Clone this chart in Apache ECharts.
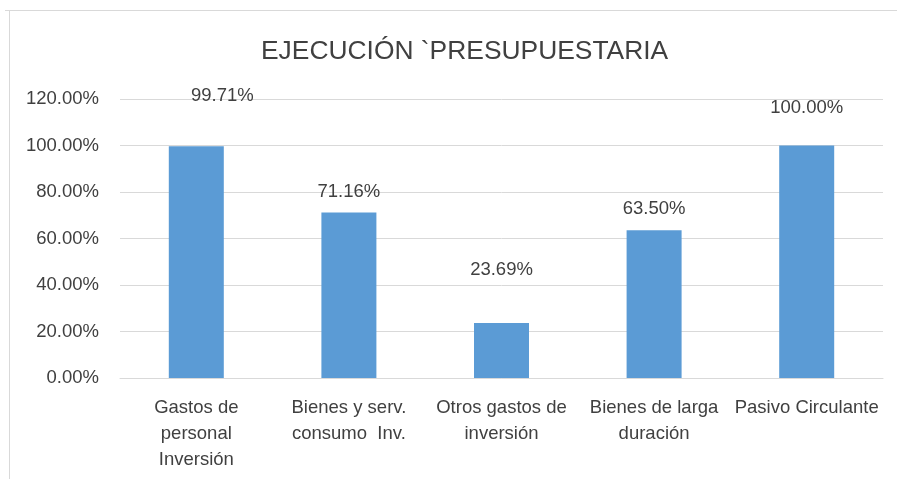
<!DOCTYPE html>
<html><head><meta charset="utf-8">
<script src="https://cdn.jsdelivr.net/npm/echarts@6/dist/echarts.min.js"></script>
<style>html,body{margin:0;padding:0;background:#fff}#c{width:897px;height:479px}</style>
</head><body><div id="c"></div>
<script>
const categories = ["Gastos de\npersonal\nInversión", "Bienes y serv.\nconsumo  Inv.", "Otros gastos de\ninversión", "Bienes de larga\nduración", "Pasivo Circulante"];
const values = [99.71, 71.16, 23.69, 63.50, 100.00];
const yTicks = [0, 20, 40, 60, 80, 100, 120];
const titleText = "EJECUCIÓN `PRESUPUESTARIA";

const labelOffsets = [[26, -41], [0, -11], [0, -44], [0, -12], [0, -28]];
const font = "'Liberation Sans', sans-serif";
const chart = echarts.init(document.getElementById('c'), null, {renderer: 'canvas'});
chart.setOption({
  animation: false,
  title: {text: titleText, left: 256, top: 34, textStyle: {fontFamily: font, fontSize: 26.4, fontWeight: 'normal', color: '#404040'}},
  grid: {left: 120, right: 14, top: 99, bottom: 101},
  xAxis: {type: 'category', data: categories,
    axisLine: {lineStyle: {color: '#d9d9d9', width: 1}}, axisTick: {show: false},
    axisLabel: {interval: 0, color: '#404040', fontFamily: font, fontSize: 18.5, lineHeight: 26, margin: 17}},
  yAxis: {type: 'value', min: yTicks[0], max: yTicks[yTicks.length-1], interval: 20,
    axisLine: {show: false}, axisTick: {show: false},
    splitLine: {lineStyle: {color: '#d9d9d9', width: 1}},
    axisLabel: {formatter: v => v.toFixed(2) + '%', color: '#404040', fontFamily: font, fontSize: 18.5, margin: 21}},
  series: [{type: 'bar', barWidth: 55,
    data: values.map((v, i) => ({value: v, label: {offset: labelOffsets[i]}})),
    itemStyle: {color: '#5b9bd5'},
    label: {show: true, position: 'top', distance: 0, formatter: p => p.value.toFixed(2) + '%', color: '#404040', fontFamily: font, fontSize: 18.5}}],
  graphic: [
    {type: 'line', shape: {x1: 5, y1: 10.5, x2: 897, y2: 10.5}, style: {stroke: '#d9d9d9', lineWidth: 1}},
    {type: 'line', shape: {x1: 9.5, y1: 10, x2: 9.5, y2: 479}, style: {stroke: '#d9d9d9', lineWidth: 1}}
  ]
});
</script></body></html>
